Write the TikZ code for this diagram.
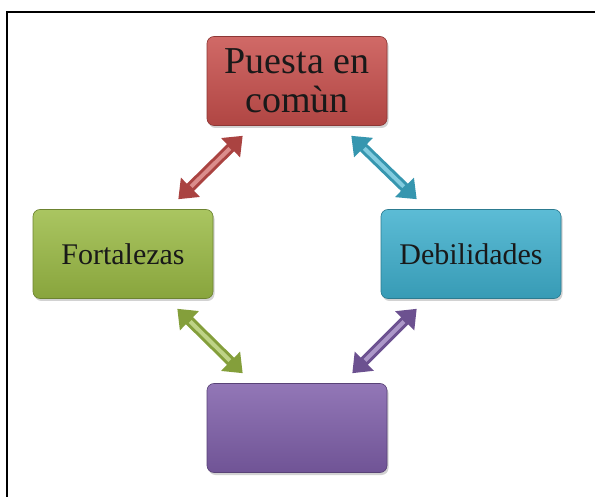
\documentclass[tikz,border=0pt]{standalone}
\usepackage{fontspec}
\setmainfont{Liberation Serif}
\usetikzlibrary{arrows.meta,shadows}

\definecolor{boxred}{HTML}{C84F4C}
\definecolor{boxgreen}{HTML}{9BBB45}
\definecolor{boxblue}{HTML}{3FB0CE}
\definecolor{boxpurple}{HTML}{7F5FAA}

\tikzset{
  card/.style={rounded corners=7pt, minimum width=180pt, minimum height=89pt,
    top color=#1!85!white, bottom color=#1!88!black, draw=#1!70!black, line width=0.6pt,
    drop shadow={shadow xshift=1.5pt, shadow yshift=-2.5pt, opacity=0.35},
    align=center, text=black!90},
  link/.style={line width=10pt, draw=#1!85!black,
    {Triangle[length=17pt,width=26pt]}-{Triangle[length=17pt,width=26pt]},
    postaction={draw=#1!65!white, line width=4pt, -, shorten >=18pt, shorten <=18pt}}
}

\begin{document}
\begin{tikzpicture}[x=1pt,y=1pt]
    \useasboundingbox (0,0) rectangle (595,496);
    \fill[white] (0,0) rectangle (595,496);
    \draw[line width=2.5pt] (7,-5) -- (7,484) -- (600,484);

    \node[card=boxred, font=\fontsize{38}{39}\selectfont] (puesta) at (297,415) {Puesta en\\comùn};
    \node[card=boxgreen, font=\fontsize{30}{32}\selectfont] (fort) at (123,242) {Fortalezas};
    \node[card=boxblue, font=\fontsize{30}{32}\selectfont] (debil) at (471,242) {Debilidades};
    \node[card=boxpurple] (vacio) at (297,68) {};

    \draw[link=boxred] ([shift={(-35,10)}]fort.north east) -- ([shift={(36,-10)}]puesta.south west);
    \draw[link=boxblue] ([shift={(-36,-10)}]puesta.south east) -- ([shift={(36,10)}]debil.north west);
    \draw[link=boxgreen] ([shift={(-36,-10)}]fort.south east) -- ([shift={(36,10)}]vacio.north west);
    \draw[link=boxpurple] ([shift={(36,-10)}]debil.south west) -- ([shift={(-35,10)}]vacio.north east);
\end{tikzpicture}
\end{document}
